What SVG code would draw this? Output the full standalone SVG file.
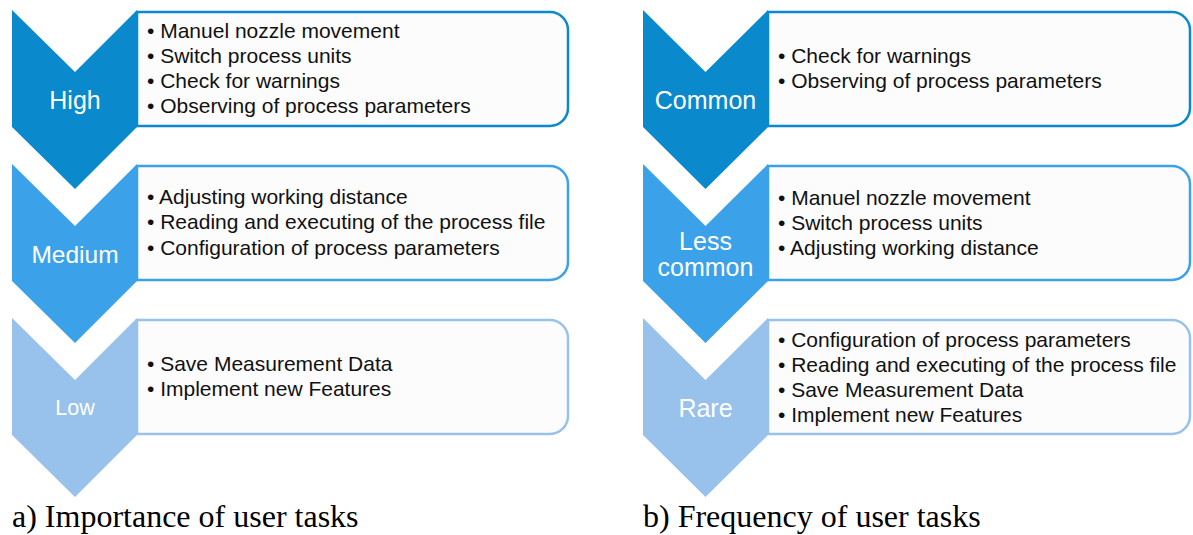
<svg xmlns="http://www.w3.org/2000/svg" width="1193" height="535" viewBox="0 0 1193 535">
<style>
.bx{fill:#FCFCFC;stroke-width:2.5}
.d{fill:#0A89CC}.m{fill:#3BA2EA}.l{fill:#98C2EC}
.sd{stroke:#0A89CC}.sm{stroke:#3BA2EA}.sl{stroke:#98C2EC}
.t{font-family:"Liberation Sans",Arial,sans-serif;font-size:21px;fill:#111}
.lb{font-family:"Liberation Sans",Arial,sans-serif;fill:#fff;text-anchor:middle}
.cap{font-family:"Liberation Serif","Times New Roman",serif;font-size:32px;fill:#000}
</style>
<rect width="1193" height="535" fill="#fff"/>
<!-- Left column -->
<g id="high">
<path class="bx sd" d="M137,12 H550 A18,18 0 0 1 568,30 V108 A18,18 0 0 1 550,126 H137 Z"/>
<path class="d" d="M12,10 L75,72 L137,10 L137,127 L75,189 L12,127 Z"/>
<text class="lb" x="75" y="109" font-size="25">High</text>
<text class="t" x="147" y="38">• Manuel nozzle movement</text>
<text class="t" x="147" y="63">• Switch process units</text>
<text class="t" x="147" y="88">• Check for warnings</text>
<text class="t" x="147" y="113">• Observing of process parameters</text>
</g>
<g id="medium">
<path class="bx sm" d="M137,166 H550 A18,18 0 0 1 568,184 V262 A18,18 0 0 1 550,280 H137 Z"/>
<path class="m" d="M12,164 L75,226 L137,164 L137,281 L75,343 L12,281 Z"/>
<text class="lb" x="75" y="263" font-size="24.5">Medium</text>
<text class="t" x="147" y="204">• Adjusting working distance</text>
<text class="t" x="147" y="229">• Reading and executing of the process file</text>
<text class="t" x="147" y="255">• Configuration of process parameters</text>
</g>
<g id="low">
<path class="bx sl" d="M137,320 H550 A18,18 0 0 1 568,338 V416 A18,18 0 0 1 550,434 H137 Z"/>
<path class="l" d="M12,318 L75,380 L137,318 L137,435 L75,497 L12,435 Z"/>
<text class="lb" x="75" y="415" font-size="21.5">Low</text>
<text class="t" x="147" y="371">• Save Measurement Data</text>
<text class="t" x="147" y="396">• Implement new Features</text>
</g>
<!-- Right column -->
<g id="common">
<path class="bx sd" d="M768,12 H1172 A18,18 0 0 1 1190,30 V108 A18,18 0 0 1 1172,126 H768 Z"/>
<path class="d" d="M643,10 L705.5,72 L768,10 L768,127 L705.5,189 L643,127 Z"/>
<text class="lb" x="705.5" y="109" font-size="25">Common</text>
<text class="t" x="778" y="63">• Check for warnings</text>
<text class="t" x="778" y="88">• Observing of process parameters</text>
</g>
<g id="lesscommon">
<path class="bx sm" d="M768,166 H1172 A18,18 0 0 1 1190,184 V262 A18,18 0 0 1 1172,280 H768 Z"/>
<path class="m" d="M643,164 L705.5,226 L768,164 L768,281 L705.5,343 L643,281 Z"/>
<text class="lb" x="705.5" y="250" font-size="25">Less</text>
<text class="lb" x="705.5" y="276" font-size="25">common</text>
<text class="t" x="778" y="205">• Manuel nozzle movement</text>
<text class="t" x="778" y="230">• Switch process units</text>
<text class="t" x="778" y="255">• Adjusting working distance</text>
</g>
<g id="rare">
<path class="bx sl" d="M768,320 H1172 A18,18 0 0 1 1190,338 V416 A18,18 0 0 1 1172,434 H768 Z"/>
<path class="l" d="M643,318 L705.5,380 L768,318 L768,435 L705.5,497 L643,435 Z"/>
<text class="lb" x="705.5" y="417" font-size="25">Rare</text>
<text class="t" x="778" y="347">• Configuration of process parameters</text>
<text class="t" x="778" y="372">• Reading and executing of the process file</text>
<text class="t" x="778" y="397">• Save Measurement Data</text>
<text class="t" x="778" y="422">• Implement new Features</text>
</g>
<g id="connectors"/>
<text class="cap" x="12" y="527">a) Importance of user tasks</text>
<text class="cap" x="643" y="527">b) Frequency of user tasks</text>
</svg>
